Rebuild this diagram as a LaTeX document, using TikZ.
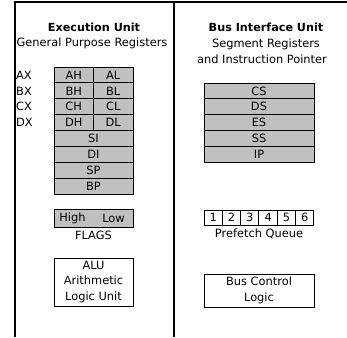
\documentclass[tikz,border=0pt]{standalone}
\usepackage{fontspec}
\setmainfont{DejaVu Sans}
\usepackage{tikz}
\usetikzlibrary{positioning}
\definecolor{reggray}{RGB}{192,192,192}

\begin{document}
\begin{tikzpicture}[
    x=1pt, y=-1pt,
    font=\fontsize{11.4}{15.5}\selectfont,
    frame/.style={line width=2pt},
    halfreg/.style={rectangle, draw=black, line width=1pt, fill=reggray, minimum width=39.5pt, minimum height=15.9pt, inner sep=0pt, outer sep=0pt},
    fullreg/.style={halfreg, minimum width=79pt},
    segreg/.style={halfreg, minimum width=110pt, minimum height=15.8pt},
    qcell/.style={rectangle, draw=black, line width=1pt, minimum width=18.33pt, minimum height=15pt, inner sep=0pt, outer sep=0pt},
    unitbox/.style={rectangle, draw=black, line width=1pt, align=center, inner sep=0pt, outer sep=0pt},
    title/.style={font=\fontsize{11.2}{15.5}\selectfont\bfseries, inner sep=0pt, anchor=base},
    caption/.style={inner sep=0pt},
    reglabel/.style={anchor=west, inner sep=0pt},
    node distance=0pt
]
\useasboundingbox (0,0) rectangle (347,337);

% Frame
\draw[frame] (15,337) -- (15,2) -- (347,2);
\draw[frame] (173.5,2) -- (173.5,337);

% Execution unit
\node[title] (eu) at (94,31) {Execution Unit};
\node[caption, anchor=base] (gpr) at (92,46.5) {General Purpose Registers};

\node[halfreg, anchor=north west] (ah) at (54,67) {AH};
\node[halfreg, right=of ah] (al) {AL};
\node[halfreg, below=of ah] (bh) {BH};
\node[halfreg, right=of bh] (bl) {BL};
\node[halfreg, below=of bh] (ch) {CH};
\node[halfreg, right=of ch] (cl) {CL};
\node[halfreg, below=of ch] (dh) {DH};
\node[halfreg, right=of dh] (dl) {DL};
\node[fullreg, anchor=north] (si) at (dh.south east) {SI};
\node[fullreg, below=of si] (di) {DI};
\node[fullreg, below=of di] (sp) {SP};
\node[fullreg, below=of sp] (bp) {BP};

\node[reglabel] (ax) at (ah.center -| 16,0) {AX};
\node[reglabel] (bx) at (bh.center -| 16,0) {BX};
\node[reglabel] (cx) at (ch.center -| 16,0) {CX};
\node[reglabel] (dx) at (dh.center -| 16,0) {DX};

\node[fullreg, minimum height=18pt, anchor=north west] (flags) at (54,209) {};
\node[caption] (high) at ([xshift=-21pt]flags.center) {High};
\node[caption] (low) at ([xshift=20pt]flags.center) {Low};
\node[caption, below=4pt of flags] (flagslbl) {FLAGS};

\node[unitbox, minimum width=79pt, minimum height=48pt, anchor=north west] (alu) at (54,258) {ALU\\Arithmetic\\Logic Unit};

% Bus interface unit
\node[title] (biu) at (266,31.5) {Bus Interface Unit};
\node[caption, anchor=base] (seg) at (266,47) {Segment Registers};
\node[caption, anchor=base] (insp) at (262,63) {and Instruction Pointer};

\node[segreg, anchor=north west] (cs) at (204,83) {CS};
\node[segreg, below=of cs] (ds) {DS};
\node[segreg, below=of ds] (es) {ES};
\node[segreg, below=of es] (ss) {SS};
\node[segreg, below=of ss] (ip) {IP};

\node[qcell, anchor=north west] (q1) at (204,210) {1};
\node[qcell, right=of q1] (q2) {2};
\node[qcell, right=of q2] (q3) {3};
\node[qcell, right=of q3] (q4) {4};
\node[qcell, right=of q4] (q5) {5};
\node[qcell, right=of q5] (q6) {6};
\node[caption, below=4pt of q3.south east] (pqlbl) {Prefetch Queue};

\node[unitbox, minimum width=110pt, minimum height=33pt, anchor=north west] (bcl) at (204,274) {Bus Control\\Logic};

\end{tikzpicture}
\end{document}
